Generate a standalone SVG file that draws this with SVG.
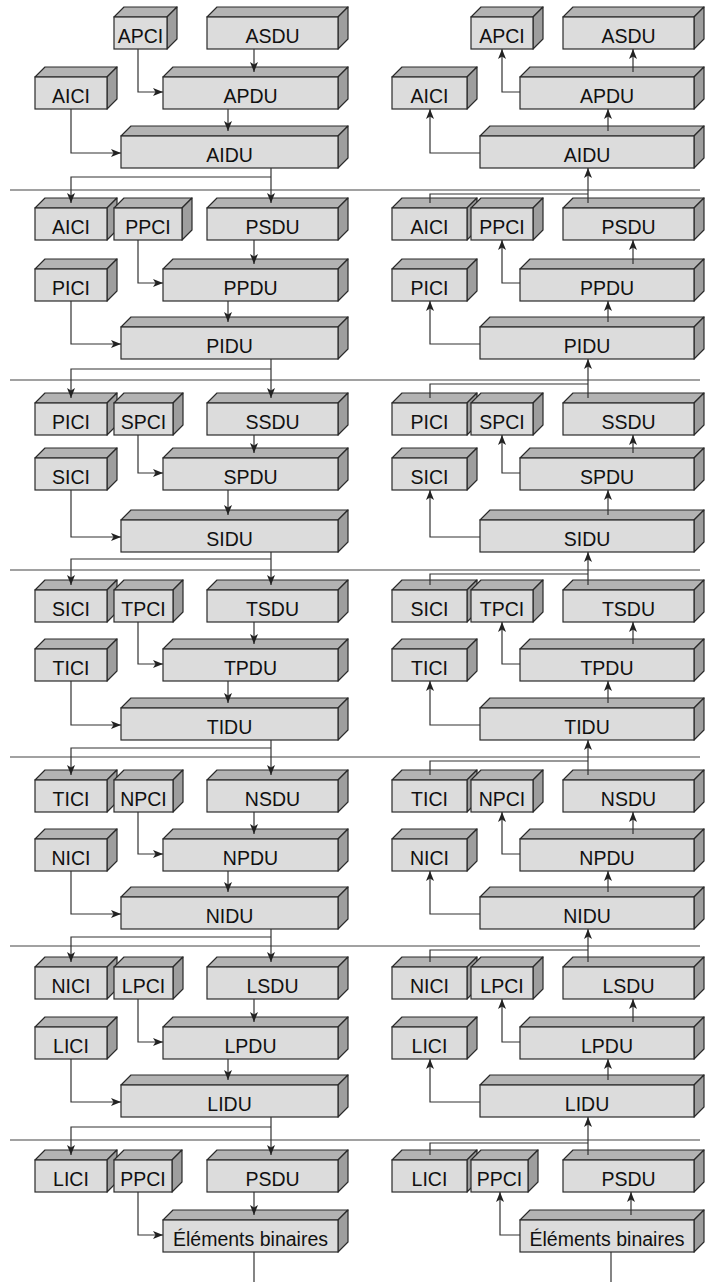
<svg xmlns="http://www.w3.org/2000/svg" width="710" height="1282" viewBox="0 0 710 1282">
<style>
.f{fill:#dcdcdc;stroke:#2a2a2a;stroke-width:1.2}
.t{fill:#b3b3b3;stroke:#2a2a2a;stroke-width:1.2;stroke-linejoin:round}
.s{fill:#9e9e9e;stroke:#2a2a2a;stroke-width:1.2;stroke-linejoin:round}
text{font-family:"Liberation Sans",Arial,sans-serif;font-size:19.5px;fill:#111;text-anchor:middle}
.c{fill:none;stroke:#333;stroke-width:1.2}
.a{marker-end:url(#ah)}
.sep{stroke:#444;stroke-width:1.2}
</style>
<defs>
<marker id="ah" markerUnits="userSpaceOnUse" markerWidth="10" markerHeight="8" refX="10" refY="4" orient="auto">
<path d="M0,0 L10,4 L0,8 L2.5,4 z" fill="#222"/>
</marker>
</defs>
<g id="separators">
<path class="sep" d="M10 190H700M10 380H700M10 570H700M10 757H700M10 946H700M10 1140H700"/>
</g>
<!-- Layer 0 -->
<g id="L0-left-APCI"><path class="t" d="M114 17l10-10h53l-10 10z"/><path class="s" d="M167 17l10-10v32l-10 10z"/><rect class="f" x="114" y="17" width="53" height="32"/><text x="140.5" y="43">APCI</text></g>
<g id="L0-left-ASDU"><path class="t" d="M207 17l10-10h131l-10 10z"/><path class="s" d="M338 17l10-10v32l-10 10z"/><rect class="f" x="207" y="17" width="131" height="32"/><text x="272.5" y="43">ASDU</text></g>
<g id="L0-left-AICI"><path class="t" d="M35 77l10-10h72l-10 10z"/><path class="s" d="M107 77l10-10v32l-10 10z"/><rect class="f" x="35" y="77" width="72" height="32"/><text x="71" y="103">AICI</text></g>
<g id="L0-left-APDU"><path class="t" d="M163 77l10-10h175l-10 10z"/><path class="s" d="M338 77l10-10v32l-10 10z"/><rect class="f" x="163" y="77" width="175" height="32"/><text x="250.5" y="103">APDU</text></g>
<g id="L0-left-AIDU"><path class="t" d="M121 136l10-10h217l-10 10z"/><path class="s" d="M338 136l10-10v32l-10 10z"/><rect class="f" x="121" y="136" width="217" height="32"/><text x="229.5" y="162">AIDU</text></g>
<g id="L0-right-APCI"><path class="t" d="M471 17l10-10h62l-10 10z"/><path class="s" d="M533 17l10-10v32l-10 10z"/><rect class="f" x="471" y="17" width="62" height="32"/><text x="502" y="43">APCI</text></g>
<g id="L0-right-ASDU"><path class="t" d="M563 17l10-10h131l-10 10z"/><path class="s" d="M694 17l10-10v32l-10 10z"/><rect class="f" x="563" y="17" width="131" height="32"/><text x="628.5" y="43">ASDU</text></g>
<g id="L0-right-AICI"><path class="t" d="M392 77l10-10h75l-10 10z"/><path class="s" d="M467 77l10-10v32l-10 10z"/><rect class="f" x="392" y="77" width="75" height="32"/><text x="429.5" y="103">AICI</text></g>
<g id="L0-right-APDU"><path class="t" d="M520 77l10-10h174l-10 10z"/><path class="s" d="M694 77l10-10v32l-10 10z"/><rect class="f" x="520" y="77" width="174" height="32"/><text x="607" y="103">APDU</text></g>
<g id="L0-right-AIDU"><path class="t" d="M480 136l10-10h214l-10 10z"/><path class="s" d="M694 136l10-10v32l-10 10z"/><rect class="f" x="480" y="136" width="214" height="32"/><text x="587" y="162">AIDU</text></g>
<!-- Layer 1 -->
<g id="L1-left-AICI"><path class="t" d="M35 208l10-10h72l-10 10z"/><path class="s" d="M107 208l10-10v32l-10 10z"/><rect class="f" x="35" y="208" width="72" height="32"/><text x="71" y="234">AICI</text></g>
<g id="L1-left-PPCI"><path class="t" d="M114 208l10-10h68l-10 10z"/><path class="s" d="M182 208l10-10v32l-10 10z"/><rect class="f" x="114" y="208" width="68" height="32"/><text x="148" y="234">PPCI</text></g>
<g id="L1-left-PSDU"><path class="t" d="M207 208l10-10h131l-10 10z"/><path class="s" d="M338 208l10-10v32l-10 10z"/><rect class="f" x="207" y="208" width="131" height="32"/><text x="272.5" y="234">PSDU</text></g>
<g id="L1-left-PICI"><path class="t" d="M35 269l10-10h72l-10 10z"/><path class="s" d="M107 269l10-10v32l-10 10z"/><rect class="f" x="35" y="269" width="72" height="32"/><text x="71" y="295">PICI</text></g>
<g id="L1-left-PPDU"><path class="t" d="M163 269l10-10h175l-10 10z"/><path class="s" d="M338 269l10-10v32l-10 10z"/><rect class="f" x="163" y="269" width="175" height="32"/><text x="250.5" y="295">PPDU</text></g>
<g id="L1-left-PIDU"><path class="t" d="M121 327l10-10h217l-10 10z"/><path class="s" d="M338 327l10-10v32l-10 10z"/><rect class="f" x="121" y="327" width="217" height="32"/><text x="229.5" y="353">PIDU</text></g>
<g id="L1-right-AICI"><path class="t" d="M392 208l10-10h75l-10 10z"/><path class="s" d="M467 208l10-10v32l-10 10z"/><rect class="f" x="392" y="208" width="75" height="32"/><text x="429.5" y="234">AICI</text></g>
<g id="L1-right-PPCI"><path class="t" d="M471 208l10-10h62l-10 10z"/><path class="s" d="M533 208l10-10v32l-10 10z"/><rect class="f" x="471" y="208" width="62" height="32"/><text x="502" y="234">PPCI</text></g>
<g id="L1-right-PSDU"><path class="t" d="M563 208l10-10h131l-10 10z"/><path class="s" d="M694 208l10-10v32l-10 10z"/><rect class="f" x="563" y="208" width="131" height="32"/><text x="628.5" y="234">PSDU</text></g>
<g id="L1-right-PICI"><path class="t" d="M392 269l10-10h75l-10 10z"/><path class="s" d="M467 269l10-10v32l-10 10z"/><rect class="f" x="392" y="269" width="75" height="32"/><text x="429.5" y="295">PICI</text></g>
<g id="L1-right-PPDU"><path class="t" d="M520 269l10-10h174l-10 10z"/><path class="s" d="M694 269l10-10v32l-10 10z"/><rect class="f" x="520" y="269" width="174" height="32"/><text x="607" y="295">PPDU</text></g>
<g id="L1-right-PIDU"><path class="t" d="M480 327l10-10h214l-10 10z"/><path class="s" d="M694 327l10-10v32l-10 10z"/><rect class="f" x="480" y="327" width="214" height="32"/><text x="587" y="353">PIDU</text></g>
<!-- Layer 2 -->
<g id="L2-left-PICI"><path class="t" d="M35 403l10-10h72l-10 10z"/><path class="s" d="M107 403l10-10v32l-10 10z"/><rect class="f" x="35" y="403" width="72" height="32"/><text x="71" y="429">PICI</text></g>
<g id="L2-left-SPCI"><path class="t" d="M114 403l10-10h59l-10 10z"/><path class="s" d="M173 403l10-10v32l-10 10z"/><rect class="f" x="114" y="403" width="59" height="32"/><text x="143.5" y="429">SPCI</text></g>
<g id="L2-left-SSDU"><path class="t" d="M207 403l10-10h131l-10 10z"/><path class="s" d="M338 403l10-10v32l-10 10z"/><rect class="f" x="207" y="403" width="131" height="32"/><text x="272.5" y="429">SSDU</text></g>
<g id="L2-left-SICI"><path class="t" d="M35 458l10-10h72l-10 10z"/><path class="s" d="M107 458l10-10v32l-10 10z"/><rect class="f" x="35" y="458" width="72" height="32"/><text x="71" y="484">SICI</text></g>
<g id="L2-left-SPDU"><path class="t" d="M163 458l10-10h175l-10 10z"/><path class="s" d="M338 458l10-10v32l-10 10z"/><rect class="f" x="163" y="458" width="175" height="32"/><text x="250.5" y="484">SPDU</text></g>
<g id="L2-left-SIDU"><path class="t" d="M121 520l10-10h217l-10 10z"/><path class="s" d="M338 520l10-10v32l-10 10z"/><rect class="f" x="121" y="520" width="217" height="32"/><text x="229.5" y="546">SIDU</text></g>
<g id="L2-right-PICI"><path class="t" d="M392 403l10-10h75l-10 10z"/><path class="s" d="M467 403l10-10v32l-10 10z"/><rect class="f" x="392" y="403" width="75" height="32"/><text x="429.5" y="429">PICI</text></g>
<g id="L2-right-SPCI"><path class="t" d="M471 403l10-10h62l-10 10z"/><path class="s" d="M533 403l10-10v32l-10 10z"/><rect class="f" x="471" y="403" width="62" height="32"/><text x="502" y="429">SPCI</text></g>
<g id="L2-right-SSDU"><path class="t" d="M563 403l10-10h131l-10 10z"/><path class="s" d="M694 403l10-10v32l-10 10z"/><rect class="f" x="563" y="403" width="131" height="32"/><text x="628.5" y="429">SSDU</text></g>
<g id="L2-right-SICI"><path class="t" d="M392 458l10-10h75l-10 10z"/><path class="s" d="M467 458l10-10v32l-10 10z"/><rect class="f" x="392" y="458" width="75" height="32"/><text x="429.5" y="484">SICI</text></g>
<g id="L2-right-SPDU"><path class="t" d="M520 458l10-10h174l-10 10z"/><path class="s" d="M694 458l10-10v32l-10 10z"/><rect class="f" x="520" y="458" width="174" height="32"/><text x="607" y="484">SPDU</text></g>
<g id="L2-right-SIDU"><path class="t" d="M480 520l10-10h214l-10 10z"/><path class="s" d="M694 520l10-10v32l-10 10z"/><rect class="f" x="480" y="520" width="214" height="32"/><text x="587" y="546">SIDU</text></g>
<!-- Layer 3 -->
<g id="L3-left-SICI"><path class="t" d="M35 590l10-10h72l-10 10z"/><path class="s" d="M107 590l10-10v32l-10 10z"/><rect class="f" x="35" y="590" width="72" height="32"/><text x="71" y="616">SICI</text></g>
<g id="L3-left-TPCI"><path class="t" d="M114 590l10-10h59l-10 10z"/><path class="s" d="M173 590l10-10v32l-10 10z"/><rect class="f" x="114" y="590" width="59" height="32"/><text x="143.5" y="616">TPCI</text></g>
<g id="L3-left-TSDU"><path class="t" d="M207 590l10-10h131l-10 10z"/><path class="s" d="M338 590l10-10v32l-10 10z"/><rect class="f" x="207" y="590" width="131" height="32"/><text x="272.5" y="616">TSDU</text></g>
<g id="L3-left-TICI"><path class="t" d="M35 649l10-10h72l-10 10z"/><path class="s" d="M107 649l10-10v32l-10 10z"/><rect class="f" x="35" y="649" width="72" height="32"/><text x="71" y="675">TICI</text></g>
<g id="L3-left-TPDU"><path class="t" d="M163 649l10-10h175l-10 10z"/><path class="s" d="M338 649l10-10v32l-10 10z"/><rect class="f" x="163" y="649" width="175" height="32"/><text x="250.5" y="675">TPDU</text></g>
<g id="L3-left-TIDU"><path class="t" d="M121 708l10-10h217l-10 10z"/><path class="s" d="M338 708l10-10v32l-10 10z"/><rect class="f" x="121" y="708" width="217" height="32"/><text x="229.5" y="734">TIDU</text></g>
<g id="L3-right-SICI"><path class="t" d="M392 590l10-10h75l-10 10z"/><path class="s" d="M467 590l10-10v32l-10 10z"/><rect class="f" x="392" y="590" width="75" height="32"/><text x="429.5" y="616">SICI</text></g>
<g id="L3-right-TPCI"><path class="t" d="M471 590l10-10h62l-10 10z"/><path class="s" d="M533 590l10-10v32l-10 10z"/><rect class="f" x="471" y="590" width="62" height="32"/><text x="502" y="616">TPCI</text></g>
<g id="L3-right-TSDU"><path class="t" d="M563 590l10-10h131l-10 10z"/><path class="s" d="M694 590l10-10v32l-10 10z"/><rect class="f" x="563" y="590" width="131" height="32"/><text x="628.5" y="616">TSDU</text></g>
<g id="L3-right-TICI"><path class="t" d="M392 649l10-10h75l-10 10z"/><path class="s" d="M467 649l10-10v32l-10 10z"/><rect class="f" x="392" y="649" width="75" height="32"/><text x="429.5" y="675">TICI</text></g>
<g id="L3-right-TPDU"><path class="t" d="M520 649l10-10h174l-10 10z"/><path class="s" d="M694 649l10-10v32l-10 10z"/><rect class="f" x="520" y="649" width="174" height="32"/><text x="607" y="675">TPDU</text></g>
<g id="L3-right-TIDU"><path class="t" d="M480 708l10-10h214l-10 10z"/><path class="s" d="M694 708l10-10v32l-10 10z"/><rect class="f" x="480" y="708" width="214" height="32"/><text x="587" y="734">TIDU</text></g>
<!-- Layer 4 -->
<g id="L4-left-TICI"><path class="t" d="M35 780l10-10h72l-10 10z"/><path class="s" d="M107 780l10-10v32l-10 10z"/><rect class="f" x="35" y="780" width="72" height="32"/><text x="71" y="806">TICI</text></g>
<g id="L4-left-NPCI"><path class="t" d="M114 780l10-10h59l-10 10z"/><path class="s" d="M173 780l10-10v32l-10 10z"/><rect class="f" x="114" y="780" width="59" height="32"/><text x="143.5" y="806">NPCI</text></g>
<g id="L4-left-NSDU"><path class="t" d="M207 780l10-10h131l-10 10z"/><path class="s" d="M338 780l10-10v32l-10 10z"/><rect class="f" x="207" y="780" width="131" height="32"/><text x="272.5" y="806">NSDU</text></g>
<g id="L4-left-NICI"><path class="t" d="M35 839l10-10h72l-10 10z"/><path class="s" d="M107 839l10-10v32l-10 10z"/><rect class="f" x="35" y="839" width="72" height="32"/><text x="71" y="865">NICI</text></g>
<g id="L4-left-NPDU"><path class="t" d="M163 839l10-10h175l-10 10z"/><path class="s" d="M338 839l10-10v32l-10 10z"/><rect class="f" x="163" y="839" width="175" height="32"/><text x="250.5" y="865">NPDU</text></g>
<g id="L4-left-NIDU"><path class="t" d="M121 897l10-10h217l-10 10z"/><path class="s" d="M338 897l10-10v32l-10 10z"/><rect class="f" x="121" y="897" width="217" height="32"/><text x="229.5" y="923">NIDU</text></g>
<g id="L4-right-TICI"><path class="t" d="M392 780l10-10h75l-10 10z"/><path class="s" d="M467 780l10-10v32l-10 10z"/><rect class="f" x="392" y="780" width="75" height="32"/><text x="429.5" y="806">TICI</text></g>
<g id="L4-right-NPCI"><path class="t" d="M471 780l10-10h62l-10 10z"/><path class="s" d="M533 780l10-10v32l-10 10z"/><rect class="f" x="471" y="780" width="62" height="32"/><text x="502" y="806">NPCI</text></g>
<g id="L4-right-NSDU"><path class="t" d="M563 780l10-10h131l-10 10z"/><path class="s" d="M694 780l10-10v32l-10 10z"/><rect class="f" x="563" y="780" width="131" height="32"/><text x="628.5" y="806">NSDU</text></g>
<g id="L4-right-NICI"><path class="t" d="M392 839l10-10h75l-10 10z"/><path class="s" d="M467 839l10-10v32l-10 10z"/><rect class="f" x="392" y="839" width="75" height="32"/><text x="429.5" y="865">NICI</text></g>
<g id="L4-right-NPDU"><path class="t" d="M520 839l10-10h174l-10 10z"/><path class="s" d="M694 839l10-10v32l-10 10z"/><rect class="f" x="520" y="839" width="174" height="32"/><text x="607" y="865">NPDU</text></g>
<g id="L4-right-NIDU"><path class="t" d="M480 897l10-10h214l-10 10z"/><path class="s" d="M694 897l10-10v32l-10 10z"/><rect class="f" x="480" y="897" width="214" height="32"/><text x="587" y="923">NIDU</text></g>
<!-- Layer 5 -->
<g id="L5-left-NICI"><path class="t" d="M35 967l10-10h72l-10 10z"/><path class="s" d="M107 967l10-10v32l-10 10z"/><rect class="f" x="35" y="967" width="72" height="32"/><text x="71" y="993">NICI</text></g>
<g id="L5-left-LPCI"><path class="t" d="M114 967l10-10h59l-10 10z"/><path class="s" d="M173 967l10-10v32l-10 10z"/><rect class="f" x="114" y="967" width="59" height="32"/><text x="143.5" y="993">LPCI</text></g>
<g id="L5-left-LSDU"><path class="t" d="M207 967l10-10h131l-10 10z"/><path class="s" d="M338 967l10-10v32l-10 10z"/><rect class="f" x="207" y="967" width="131" height="32"/><text x="272.5" y="993">LSDU</text></g>
<g id="L5-left-LICI"><path class="t" d="M35 1027l10-10h72l-10 10z"/><path class="s" d="M107 1027l10-10v32l-10 10z"/><rect class="f" x="35" y="1027" width="72" height="32"/><text x="71" y="1053">LICI</text></g>
<g id="L5-left-LPDU"><path class="t" d="M163 1027l10-10h175l-10 10z"/><path class="s" d="M338 1027l10-10v32l-10 10z"/><rect class="f" x="163" y="1027" width="175" height="32"/><text x="250.5" y="1053">LPDU</text></g>
<g id="L5-left-LIDU"><path class="t" d="M121 1085l10-10h217l-10 10z"/><path class="s" d="M338 1085l10-10v32l-10 10z"/><rect class="f" x="121" y="1085" width="217" height="32"/><text x="229.5" y="1111">LIDU</text></g>
<g id="L5-right-NICI"><path class="t" d="M392 967l10-10h75l-10 10z"/><path class="s" d="M467 967l10-10v32l-10 10z"/><rect class="f" x="392" y="967" width="75" height="32"/><text x="429.5" y="993">NICI</text></g>
<g id="L5-right-LPCI"><path class="t" d="M471 967l10-10h62l-10 10z"/><path class="s" d="M533 967l10-10v32l-10 10z"/><rect class="f" x="471" y="967" width="62" height="32"/><text x="502" y="993">LPCI</text></g>
<g id="L5-right-LSDU"><path class="t" d="M563 967l10-10h131l-10 10z"/><path class="s" d="M694 967l10-10v32l-10 10z"/><rect class="f" x="563" y="967" width="131" height="32"/><text x="628.5" y="993">LSDU</text></g>
<g id="L5-right-LICI"><path class="t" d="M392 1027l10-10h75l-10 10z"/><path class="s" d="M467 1027l10-10v32l-10 10z"/><rect class="f" x="392" y="1027" width="75" height="32"/><text x="429.5" y="1053">LICI</text></g>
<g id="L5-right-LPDU"><path class="t" d="M520 1027l10-10h174l-10 10z"/><path class="s" d="M694 1027l10-10v32l-10 10z"/><rect class="f" x="520" y="1027" width="174" height="32"/><text x="607" y="1053">LPDU</text></g>
<g id="L5-right-LIDU"><path class="t" d="M480 1085l10-10h214l-10 10z"/><path class="s" d="M694 1085l10-10v32l-10 10z"/><rect class="f" x="480" y="1085" width="214" height="32"/><text x="587" y="1111">LIDU</text></g>
<!-- Layer 6 -->
<g id="L6-left-LICI"><path class="t" d="M35 1160l10-10h72l-10 10z"/><path class="s" d="M107 1160l10-10v32l-10 10z"/><rect class="f" x="35" y="1160" width="72" height="32"/><text x="71" y="1186">LICI</text></g>
<g id="L6-left-PPCI"><path class="t" d="M114 1160l10-10h58l-10 10z"/><path class="s" d="M172 1160l10-10v32l-10 10z"/><rect class="f" x="114" y="1160" width="58" height="32"/><text x="143" y="1186">PPCI</text></g>
<g id="L6-left-PSDU"><path class="t" d="M207 1160l10-10h131l-10 10z"/><path class="s" d="M338 1160l10-10v32l-10 10z"/><rect class="f" x="207" y="1160" width="131" height="32"/><text x="272.5" y="1186">PSDU</text></g>
<g id="L6-left-bits"><path class="t" d="M163 1220l10-10h175l-10 10z"/><path class="s" d="M338 1220l10-10v32l-10 10z"/><rect class="f" x="163" y="1220" width="175" height="32"/><text x="250.5" y="1246">Éléments binaires</text></g>
<g id="L6-right-LICI"><path class="t" d="M392 1160l10-10h75l-10 10z"/><path class="s" d="M467 1160l10-10v32l-10 10z"/><rect class="f" x="392" y="1160" width="75" height="32"/><text x="429.5" y="1186">LICI</text></g>
<g id="L6-right-PPCI"><path class="t" d="M471 1160l10-10h57l-10 10z"/><path class="s" d="M528 1160l10-10v32l-10 10z"/><rect class="f" x="471" y="1160" width="57" height="32"/><text x="499.5" y="1186">PPCI</text></g>
<g id="L6-right-PSDU"><path class="t" d="M563 1160l10-10h131l-10 10z"/><path class="s" d="M694 1160l10-10v32l-10 10z"/><rect class="f" x="563" y="1160" width="131" height="32"/><text x="628.5" y="1186">PSDU</text></g>
<g id="L6-right-bits"><path class="t" d="M520 1220l10-10h174l-10 10z"/><path class="s" d="M694 1220l10-10v32l-10 10z"/><rect class="f" x="520" y="1220" width="174" height="32"/><text x="607" y="1246">Éléments binaires</text></g>
<g id="connectors">
<!-- L0 left -->
<path class="c a" d="M138 49V92H163"/>
<path class="c a" d="M254 49V72"/>
<path class="c a" d="M228 109V131"/>
<path class="c a" d="M71 109V153H121"/>
<!-- L0 right -->
<path class="c a" d="M520 92H502V49"/>
<path class="c a" d="M633 72V49"/>
<path class="c a" d="M608 131V109"/>
<path class="c a" d="M480 153H430V109"/>
<!-- L0-L1 -->
<path class="c a" d="M271 168V203"/>
<path class="c a" d="M271 177H71V203"/>
<path class="c a" d="M588 203V168"/>
<path class="c" d="M430 203V194H588"/>
<!-- L1 left -->
<path class="c a" d="M138 240V283H163"/>
<path class="c a" d="M254 240V264"/>
<path class="c a" d="M228 301V322"/>
<path class="c a" d="M71 301V344H121"/>
<!-- L1 right -->
<path class="c a" d="M520 283H502V240"/>
<path class="c a" d="M633 264V240"/>
<path class="c a" d="M608 322V301"/>
<path class="c a" d="M480 344H430V301"/>
<!-- L1-L2 -->
<path class="c a" d="M271 359V398"/>
<path class="c a" d="M271 369H71V398"/>
<path class="c a" d="M588 398V359"/>
<path class="c" d="M430 398V384H588"/>
<!-- L2 left -->
<path class="c a" d="M138 435V473H163"/>
<path class="c a" d="M254 435V453"/>
<path class="c a" d="M228 490V515"/>
<path class="c a" d="M71 490V537H121"/>
<!-- L2 right -->
<path class="c a" d="M520 473H502V435"/>
<path class="c a" d="M633 453V435"/>
<path class="c a" d="M608 515V490"/>
<path class="c a" d="M480 537H430V490"/>
<!-- L2-L3 -->
<path class="c a" d="M271 552V585"/>
<path class="c a" d="M271 559H71V585"/>
<path class="c a" d="M588 585V552"/>
<path class="c" d="M430 585V574H588"/>
<!-- L3 left -->
<path class="c a" d="M138 622V664H163"/>
<path class="c a" d="M254 622V644"/>
<path class="c a" d="M228 681V703"/>
<path class="c a" d="M71 681V725H121"/>
<!-- L3 right -->
<path class="c a" d="M520 664H502V622"/>
<path class="c a" d="M633 644V622"/>
<path class="c a" d="M608 703V681"/>
<path class="c a" d="M480 725H430V681"/>
<!-- L3-L4 -->
<path class="c a" d="M271 740V775"/>
<path class="c a" d="M271 748H71V775"/>
<path class="c a" d="M588 775V740"/>
<path class="c" d="M430 775V761H588"/>
<!-- L4 left -->
<path class="c a" d="M138 812V854H163"/>
<path class="c a" d="M254 812V834"/>
<path class="c a" d="M228 871V892"/>
<path class="c a" d="M71 871V914H121"/>
<!-- L4 right -->
<path class="c a" d="M520 854H502V812"/>
<path class="c a" d="M633 834V812"/>
<path class="c a" d="M608 892V871"/>
<path class="c a" d="M480 914H430V871"/>
<!-- L4-L5 -->
<path class="c a" d="M271 929V962"/>
<path class="c a" d="M271 937H71V962"/>
<path class="c a" d="M588 962V929"/>
<path class="c" d="M430 962V950H588"/>
<!-- L5 left -->
<path class="c a" d="M138 999V1042H163"/>
<path class="c a" d="M254 999V1022"/>
<path class="c a" d="M228 1059V1080"/>
<path class="c a" d="M71 1059V1102H121"/>
<!-- L5 right -->
<path class="c a" d="M520 1042H502V999"/>
<path class="c a" d="M633 1022V999"/>
<path class="c a" d="M608 1080V1059"/>
<path class="c a" d="M480 1102H430V1059"/>
<!-- L5-L6 -->
<path class="c a" d="M271 1117V1155"/>
<path class="c a" d="M271 1127H71V1155"/>
<path class="c a" d="M588 1155V1117"/>
<path class="c" d="M430 1155V1143H588"/>
<!-- L6 -->
<path class="c a" d="M138 1192V1235H163"/>
<path class="c a" d="M254 1192V1215"/>
<path class="c" d="M254 1252V1282"/>
<path class="c a" d="M520 1235H500V1192"/>
<path class="c a" d="M631 1215V1192"/>
<path class="c" d="M611 1252V1282"/>
</g>
</svg>
